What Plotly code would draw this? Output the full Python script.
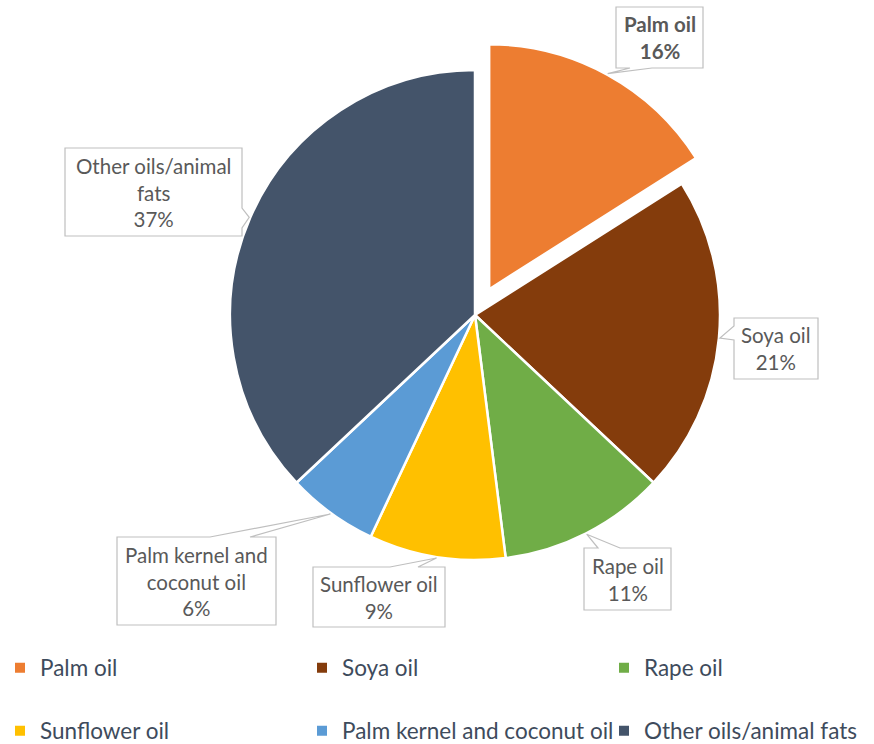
import math
import textwrap
import plotly.graph_objects as go

# Vegetable oil / fat shares (%)
labels = ["Palm oil", "Soya oil", "Rape oil", "Sunflower oil",
          "Palm kernel and coconut oil", "Other oils/animal fats"]
shares = [16, 21, 11, 9, 6, 37]
colors = ["#ED7D31", "#843C0C", "#70AD47", "#FFC000", "#5B9BD5", "#44546A"]
pulls = [0.12, 0, 0, 0, 0, 0]

W, H = 874, 744
CX, CY, R = 475, 315, 245          # pie centre and radius in px
HALF = R * (1 + max(pulls))         # domain half-size (plotly shrinks r by pull)

LABEL_FONT = "Lato"
LABEL_COLOR = "#595959"
LEGEND_COLOR = "#3E4B5C"
BOX_LINE = "#BFBFBF"

# callout boxes: (x0, y0, x1, y1) px, side of pointer, pointer base along side
callouts = [
    ((616, 7, 703, 68), "bottom", (630, 652)),
    ((734, 318, 818, 379), "left", (326, 340)),
    ((584, 548, 671, 610), "top", (598, 620)),
    ((313, 567, 445, 627), "top", (390, 418)),
    ((117, 537, 276, 625), "top", (210, 250)),
    ((65, 148, 242, 236), "right", (208, 228)),
]


def px(x):
    return x / W


def py(y):
    return 1 - y / H


fig = go.Figure()
fig.add_trace(go.Pie(
    labels=labels, values=shares, sort=False, direction="clockwise",
    rotation=0, pull=pulls, textinfo="none", showlegend=False,
    marker=dict(colors=colors, line=dict(color="white", width=2.5)),
    domain=dict(x=[px(CX - HALF), px(CX + HALF)],
                y=[py(CY + HALF), py(CY - HALF)]),
))

# legend entries (two rows of three columns)
for i, (lab, col) in enumerate(zip(labels, colors)):
    fig.add_trace(go.Scatter(
        x=[None], y=[None], mode="markers", name=lab,
        marker=dict(symbol="square", size=10, color=col),
        legend="legend" if i < 3 else "legend2", hoverinfo="skip",
        legendwidth=257 if i % 3 < 2 else 228,
    ))

shapes = []
annotations = []
total = sum(shares)
cum = 0.0
for i, (lab, val) in enumerate(zip(labels, shares)):
    mid = (cum + val / 2) / total * 2 * math.pi
    cum += val
    ux, uy = math.sin(mid), -math.cos(mid)
    off = pulls[i] * R
    tx = CX + ux * (R + off + 1)
    ty = CY + uy * (R + off + 1)

    (x0, y0, x1, y1), side, (b0, b1) = callouts[i]
    # outline of the box with a pointer wedge inserted on one side
    if side == "top":
        pts = [(x0, y0), (b0, y0), (tx, ty), (b1, y0), (x1, y0), (x1, y1), (x0, y1)]
    elif side == "bottom":
        pts = [(x0, y0), (x1, y0), (x1, y1), (b1, y1), (tx, ty), (b0, y1), (x0, y1)]
    elif side == "left":
        pts = [(x0, y0), (x1, y0), (x1, y1), (x0, y1), (x0, b1), (tx, ty), (x0, b0)]
    else:
        pts = [(x0, y0), (x1, y0), (x1, b0), (tx, ty), (x1, b1), (x1, y1), (x0, y1)]
    path = "M " + " L ".join(f"{px(a):.5f},{py(b):.5f}" for a, b in pts) + " Z"
    shapes.append(dict(type="path", path=path, xref="paper", yref="paper",
                       fillcolor="white", line=dict(color=BOX_LINE, width=1.2),
                       layer="above"))

    name = "<br>".join(textwrap.wrap(lab, 17))
    text = f"{name}<br>{val}%"
    if i == 0:
        text = f"<b>{text}</b>"
    annotations.append(dict(
        x=px((x0 + x1) / 2), y=py((y0 + y1) / 2), xref="paper", yref="paper",
        text=text, showarrow=False, xanchor="center", yanchor="middle",
        align="center", font=dict(family=LABEL_FONT, size=20.5, color=LABEL_COLOR),
    ))

legend_common = dict(
    orientation="h", entrywidthmode="pixels",
    x=0, xanchor="left", yanchor="middle",
    font=dict(family=LABEL_FONT, size=22.5, color=LEGEND_COLOR),
    bgcolor="rgba(0,0,0,0)", itemclick=False, itemdoubleclick=False,
)

fig.update_layout(
    width=W, height=H,
    margin=dict(l=0, r=0, t=0, b=0, autoexpand=False),
    paper_bgcolor="white", plot_bgcolor="white",
    xaxis=dict(visible=False), yaxis=dict(visible=False),
    shapes=shapes, annotations=annotations,
    legend=dict(legend_common, y=py(668)),
    legend2=dict(legend_common, y=py(731)),
)

fig.write_html("out.html")
